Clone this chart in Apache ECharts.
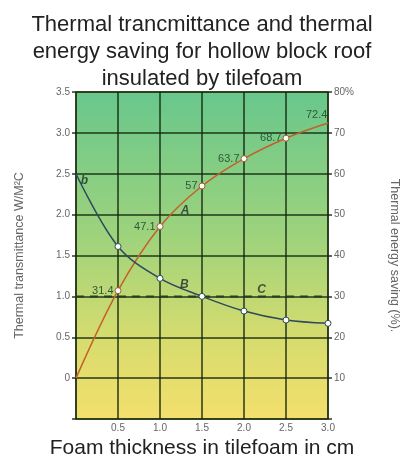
<!DOCTYPE html>
<html>
<head>
<meta charset="utf-8">
<script src="https://cdn.jsdelivr.net/npm/echarts@6/dist/echarts.min.js"></script>
<style>
  html, body { margin: 0; padding: 0; background: #fff; }
  #chart { width: 404px; height: 461px; }
</style>
</head>
<body>
<div id="chart"></div>
<script>
// foam thickness (cm)
const thickness = [0, 0.5, 1.0, 1.5, 2.0, 2.5, 3.0];
// curve B: thermal transmittance (left axis)
const transmittance = [2.5, 1.61, 1.22, 1.0, 0.82, 0.71, 0.67];
// curve A: thermal energy saving % (right axis)
const energySaving = [10, 31.4, 47.1, 57, 63.7, 68.7, 72.4];
const savingLabels = ['', '31.4', '47.1', '57', '63.7', '68.7', '72.4'];
// line C: reference transmittance
const refLevel = 1.0;
// curve tags [text, x, y(left axis)]
const curveTags = [['b', 0.1, 2.42], ['A', 1.3, 2.05], ['B', 1.29, 1.14], ['C', 2.21, 1.08]];

const gridLine = 'rgba(18,38,14,0.9)';
const chart = echarts.init(document.getElementById('chart'), null, {renderer: 'canvas'});

const savingData = thickness.map((t, i) => ({
  value: [t, energySaving[i]],
  symbolSize: (i === 0 || i === thickness.length - 1) ? 0 : 6,
  label: {
    show: savingLabels[i] !== '',
    formatter: savingLabels[i],
    position: i === thickness.length - 1 ? [-22, -14] : 'left',
    distance: 1
  }
}));
const transData = thickness.map((t, i) => ({
  value: [t, transmittance[i]],
  symbolSize: i === 0 ? 0 : 6
}));

chart.setOption({
  animation: false,
  title: {
    text: 'Thermal trancmittance and thermal\nenergy saving for hollow block roof\ninsulated by tilefoam',
    left: 'center', top: 6,
    textStyle: {fontFamily: 'Liberation Sans', fontSize: 22, fontWeight: 'normal', color: '#222', lineHeight: 27}
  },
  grid: {
    left: 76, right: 76, top: 92, bottom: 42,
    show: true,
    outerBoundsMode: 'none',
    borderColor: '#4d5a26', borderWidth: 1.5,
    backgroundColor: new echarts.graphic.LinearGradient(0, 0, 0, 1, [
      {offset: 0, color: '#68c78c'},
      {offset: 0.45, color: '#9fd37c'},
      {offset: 0.75, color: '#d6dc6e'},
      {offset: 1, color: '#f4df6c'}
    ])
  },
  xAxis: {
    type: 'value', min: 0, max: 3, interval: 0.5,
    name: 'Foam thickness in tilefoam in cm',
    nameLocation: 'middle', nameGap: 17,
    nameTextStyle: {fontFamily: 'Liberation Sans', fontSize: 21, color: '#222'},
    axisLine: {show: false},
    axisTick: {show: false},
    axisLabel: {
      margin: 4, fontSize: 10, color: '#666', fontFamily: 'Liberation Sans',
      formatter: v => v === 0 ? '' : v.toFixed(1)
    },
    splitLine: {show: true, lineStyle: {color: gridLine, width: 1.5}}
  },
  yAxis: [{
    type: 'value', min: -0.5, max: 3.5, interval: 0.5,
    name: 'Thermal transmittance W/M\u00B2C',
    nameLocation: 'middle', nameGap: 50, nameRotate: 90,
    nameTextStyle: {fontFamily: 'Liberation Sans', fontSize: 12.5, color: '#666'},
    axisLine: {show: false},
    axisTick: {show: true, length: 4, lineStyle: {color: gridLine, width: 1.5}},
    axisLabel: {
      margin: 6, fontSize: 10, color: '#666', fontFamily: 'Liberation Sans',
      formatter: v => v < 0 ? '' : (v === 0 ? '0' : v.toFixed(1))
    },
    splitLine: {show: true, lineStyle: {color: gridLine, width: 1.5}}
  }, {
    type: 'value', min: 0, max: 80, interval: 10,
    name: 'Thermal energy saving (%).',
    nameLocation: 'middle', nameGap: 60, nameRotate: -90,
    nameTextStyle: {fontFamily: 'Liberation Sans', fontSize: 12.5, color: '#666'},
    axisLine: {show: false},
    axisTick: {show: true, length: 4, lineStyle: {color: gridLine, width: 1.5}},
    axisLabel: {
      margin: 6, fontSize: 10, color: '#666', fontFamily: 'Liberation Sans',
      formatter: v => v === 0 ? '' : (v === 80 ? '80%' : String(v))
    },
    splitLine: {show: false}
  }],
  series: [{
    name: 'C', type: 'line', yAxisIndex: 0,
    data: [[0, refLevel], [3, refLevel]],
    symbol: 'none',
    lineStyle: {color: '#263f22', width: 2, type: [8, 6]},
    z: 3
  }, {
    name: 'A', type: 'line', yAxisIndex: 1, smooth: 0.35,
    data: savingData,
    symbol: 'circle',
    itemStyle: {color: '#fff', borderColor: '#a85a2a', borderWidth: 1},
    lineStyle: {color: '#c4602a', width: 1.5},
    label: {color: '#2c5a36', fontSize: 11, fontFamily: 'Liberation Sans'},
    z: 4
  }, {
    name: 'B', type: 'line', yAxisIndex: 0, smooth: 0.35,
    data: transData,
    symbol: 'circle',
    itemStyle: {color: '#fff', borderColor: '#2e4a55', borderWidth: 1},
    lineStyle: {color: '#2e4a5a', width: 1.5},
    z: 4
  }, {
    name: 'tags', type: 'scatter', yAxisIndex: 0,
    data: curveTags.map(t => ({value: [t[1], t[2]], name: t[0]})),
    symbolSize: 0,
    label: {
      show: true, position: 'inside', formatter: p => p.name,
      fontSize: 12, fontStyle: 'italic', fontWeight: 'bold', color: '#1e2e2a',
      fontFamily: 'Liberation Sans'
    },
    z: 5
  }]
});
</script>
</body>
</html>
